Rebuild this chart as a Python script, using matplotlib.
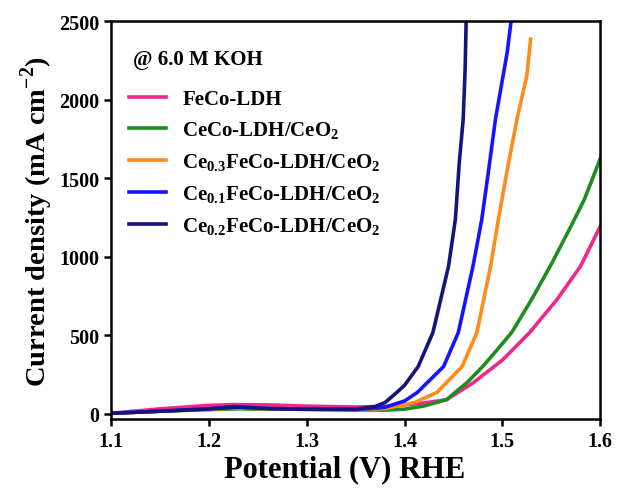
import matplotlib
matplotlib.use('Agg')
import matplotlib.pyplot as plt

plt.rcParams['font.family'] = ['Liberation Serif', 'DejaVu Serif']
plt.rcParams['font.weight'] = 'bold'
plt.rcParams['mathtext.fontset'] = 'custom'
plt.rcParams['mathtext.rm'] = 'Liberation Serif:bold'
plt.rcParams['mathtext.bf'] = 'Liberation Serif:bold'

# potential (V) vs current density (mA cm-2)
x_feco = [1.10, 1.15, 1.20, 1.225, 1.26, 1.30, 1.35, 1.38, 1.40, 1.42, 1.443,
          1.47, 1.50, 1.528, 1.556, 1.58, 1.60]
y_feco = [2, 30, 52, 57, 55, 47, 42, 45, 55, 68, 88,
          195, 340, 516, 727, 938, 1190]

x_ceco = [1.10, 1.15, 1.20, 1.23, 1.26, 1.30, 1.35, 1.38, 1.40, 1.42, 1.443,
          1.464, 1.48, 1.495, 1.51, 1.53, 1.55, 1.57, 1.584, 1.60]
y_ceco = [2, 15, 25, 30, 28, 27, 24, 22, 28, 48, 89,
          198, 300, 408, 520, 727, 950, 1190, 1365, 1620]

x_ce03 = [1.10, 1.15, 1.20, 1.23, 1.26, 1.30, 1.35, 1.38, 1.41, 1.433, 1.459,
          1.474, 1.488, 1.496, 1.505, 1.515, 1.525, 1.529]
y_ce03 = [2, 15, 28, 35, 30, 27, 25, 32, 70, 134, 300,
          516, 938, 1237, 1550, 1875, 2150, 2385]

x_ce01 = [1.10, 1.15, 1.20, 1.225, 1.26, 1.30, 1.35, 1.38, 1.40, 1.413, 1.44,
          1.455, 1.47, 1.479, 1.486, 1.493, 1.505, 1.509]
y_ce01 = [2, 15, 30, 45, 32, 27, 25, 40, 80, 134, 300,
          516, 938, 1237, 1550, 1875, 2300, 2500]

x_ce02 = [1.10, 1.15, 1.20, 1.23, 1.26, 1.30, 1.35, 1.37, 1.38, 1.392, 1.40,
          1.414, 1.429, 1.445, 1.452, 1.456, 1.46, 1.462, 1.463]
y_ce02 = [2, 15, 30, 40, 32, 28, 28, 45, 70, 134, 180,
          300, 516, 938, 1237, 1600, 1875, 2200, 2500]

labels = ['FeCo-LDH', 'CeCo-LDH/CeO$_2$', 'Ce$_{0.3}$FeCo-LDH/CeO$_2$',
          'Ce$_{0.1}$FeCo-LDH/CeO$_2$', 'Ce$_{0.2}$FeCo-LDH/CeO$_2$']
colors = ['#F0288C', '#1E8C1E', '#FF8C1A', '#1414FF', '#14147F']

fig = plt.figure(figsize=(6.18, 4.89), dpi=100)
ax = fig.add_axes([0.18, 0.141, 0.791, 0.814])

series = [(x_feco, y_feco), (x_ceco, y_ceco), (x_ce03, y_ce03),
          (x_ce01, y_ce01), (x_ce02, y_ce02)]
for (xs, ys), lab, c in zip(series, labels, colors):
    ax.plot(xs, ys, color=c, lw=2.6, label=lab)

ax.set_xlim(1.1, 1.6)
ax.set_ylim(-35, 2500)
ax.set_xticks([1.1, 1.2, 1.3, 1.4, 1.5, 1.6])
ax.set_yticks([0, 500, 1000, 1500, 2000, 2500])
ax.tick_params(width=1.8, length=5, labelsize=14.5)
for s in ax.spines.values():
    s.set_linewidth(1.8)

ax.set_xlabel('Potential (V) RHE', fontsize=22, fontweight='bold')
ax.xaxis.set_label_coords(0.477, -0.088)
ax.set_ylabel('Current density (mA cm$^{-2}$)', fontsize=20.5, fontweight='bold', labelpad=3)

# electrolyte note above the legend
ax.text(0.045, 0.905, '@ 6.0 M KOH', transform=ax.transAxes, fontsize=15,
        fontweight='bold', va='center', ha='left')

ax.legend(loc='upper left', frameon=False, fontsize=15,
          handlelength=1.75, handletextpad=0.8, labelspacing=0.5,
          borderaxespad=0.0, bbox_to_anchor=(0.02, 0.85))

fig.savefig('out.png', dpi=100)
